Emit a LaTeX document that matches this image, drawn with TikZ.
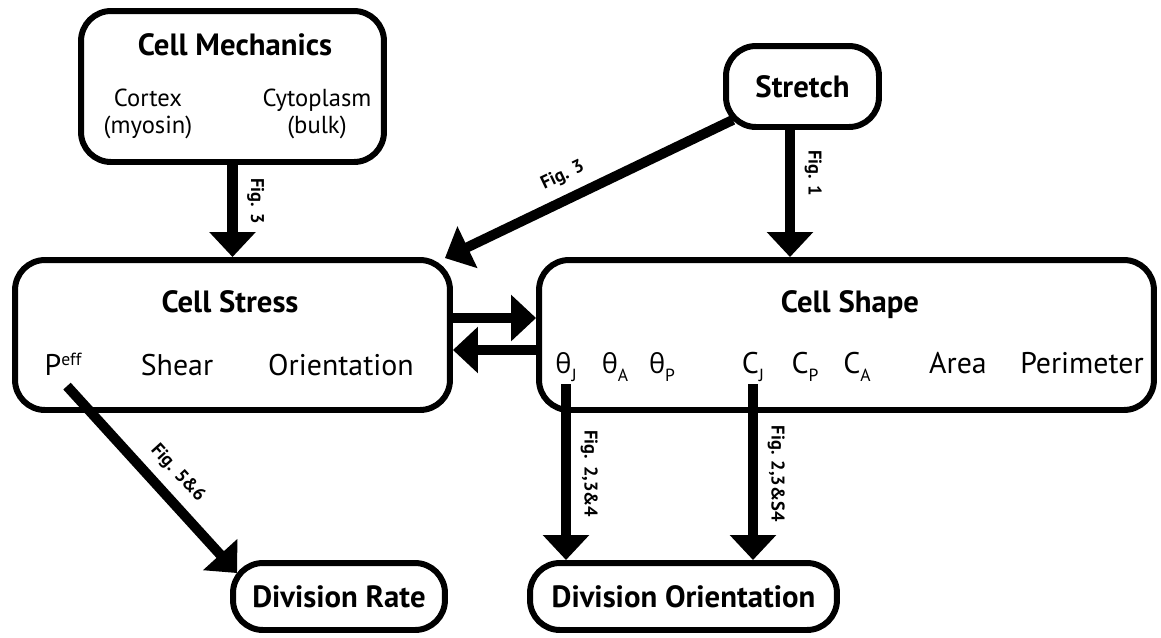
\documentclass[tikz,border=0pt]{standalone}
\usepackage{fontspec}
\setmainfont{PT Sans}
\newfontfamily\grk{Open Sans}
\usetikzlibrary{arrows.meta,calc}

\tikzset{
  bigtip/.tip={Triangle[length=0.5cm,width=0.9cm]},
  box/.style={draw, line width=3.4pt, rounded corners=0.6cm, inner sep=0pt},
  title/.style={font=\fontsize{17.5}{20}\selectfont\bfseries, anchor=base},
  item/.style={font=\fontsize{17}{20}\selectfont, anchor=base, inner sep=1pt},
  small/.style={font=\fontsize{14}{15}\selectfont, align=center},
  flow/.style={line width=5.7pt, -bigtip},
  figlbl/.style={font=\fontsize{10.5}{12}\selectfont\bfseries, inner sep=5.5pt},
}
\newcommand{\lowsub}[1]{\raisebox{-5pt}{\fontsize{10}{12}\selectfont #1}}
\newcommand{\thet}{{\grk\fontsize{15.5}{16}\selectfont θ}}

\begin{document}
\begin{tikzpicture}[x=0.02cm, y=-0.02cm]
\useasboundingbox (0,0) rectangle (1161,637);

% boxes
\node[box, minimum width=6.06cm, minimum height=3.02cm] (mech) at (232.5,86.5) {};
\node[box, font=\fontsize{17.5}{20}\selectfont\bfseries, minimum width=3.06cm, minimum height=1.62cm] (stretch) at (802.5,86.5) {Stretch};
\node[box, minimum width=8.7cm, minimum height=3cm] (stress) at (232.5,335) {};
\node[box, minimum width=12.3cm, minimum height=3cm] (shape) at (846.5,335) {};
\node[box, font=\fontsize{17.5}{20}\selectfont\bfseries, minimum width=4.24cm, minimum height=1.34cm] (rate) at (339,596.5) {Division Rate};
\node[box, font=\fontsize{17.5}{20}\selectfont\bfseries, minimum width=6.14cm, minimum height=1.34cm] (divor) at (683.5,596.5) {Division Orientation};

% titles
\node[title] (mechT) at (235,55) {Cell Mechanics};
\node[title] (stressT) at (230,312) {Cell Stress};
\node[title] (shapeT) at (850,312) {Cell Shape};

% contents
\node[small] (cortex) at (148,114) {Cortex\\(myosin)};
\node[small] (cyto) at (317,114) {Cytoplasm\\(bulk)};

\node[item] (peff) at (63,375) {P\raisebox{5.5pt}{\fontsize{10}{12}\selectfont eff}};
\node[item] (shear) at (177,375) {Shear};
\node[item] (orient) at (341,375) {Orientation};

\node[item] (thJ) at (566,373) {\thet\lowsub{J}};
\node[item] (thA) at (615,373) {\thet\lowsub{A}};
\node[item] (thP) at (662,373) {\thet\lowsub{P}};
\node[item] (CJ) at (753,373) {C\lowsub{J}};
\node[item] (CP) at (805,373) {C\lowsub{P}};
\node[item] (CA) at (857,373) {C\lowsub{A}};
\node[item] (area) at (958,373) {Area};
\node[item] (perim) at (1082,373) {Perimeter};

% helper points
\coordinate (stresstip) at ([shift={(-8,1)}]stress.north east);
\coordinate (peffout) at ([shift={(4,9)}]peff.south);
\coordinate (ratetip) at ([shift={(7,13)}]rate.north west);

% arrows
\draw[flow] (mech.south) -- node[figlbl, rotate=-90, anchor=south, pos=0.39] (f3a) {Fig. 3} (mech.south |- stress.north);
\draw[flow] ([xshift=-0.25cm]stretch.south) -- node[figlbl, rotate=-90, anchor=south, pos=0.34] (f1) {Fig. 1} ([xshift=-0.25cm]stretch.south |- shape.north);
\draw[flow, bigtip-, shorten >=-0.22cm] (stresstip) -- node[figlbl, sloped, above, pos=0.46] (f3b) {Fig. 3} (stretch);
\draw[flow] ([yshift=0.34cm]stress.east) -- ([yshift=0.34cm]shape.west);
\draw[flow] ([yshift=-0.3cm]shape.west) -- ([yshift=-0.3cm]stress.east);
\draw[flow] (peffout) -- node[figlbl, sloped, above, pos=0.55] (f56) {Fig. 5\&6} (ratetip);
\draw[flow] (thJ.south) -- node[figlbl, rotate=-90, anchor=south, pos=0.51] (f234) {Fig.\hspace{4pt}2,3\&4} (thJ.south |- divor.north);
\draw[flow] (CJ.south) -- node[figlbl, rotate=-90, anchor=south, pos=0.51] (f23s4) {Fig. 2,3\&S4} (CJ.south |- divor.north);

\end{tikzpicture}
\end{document}
